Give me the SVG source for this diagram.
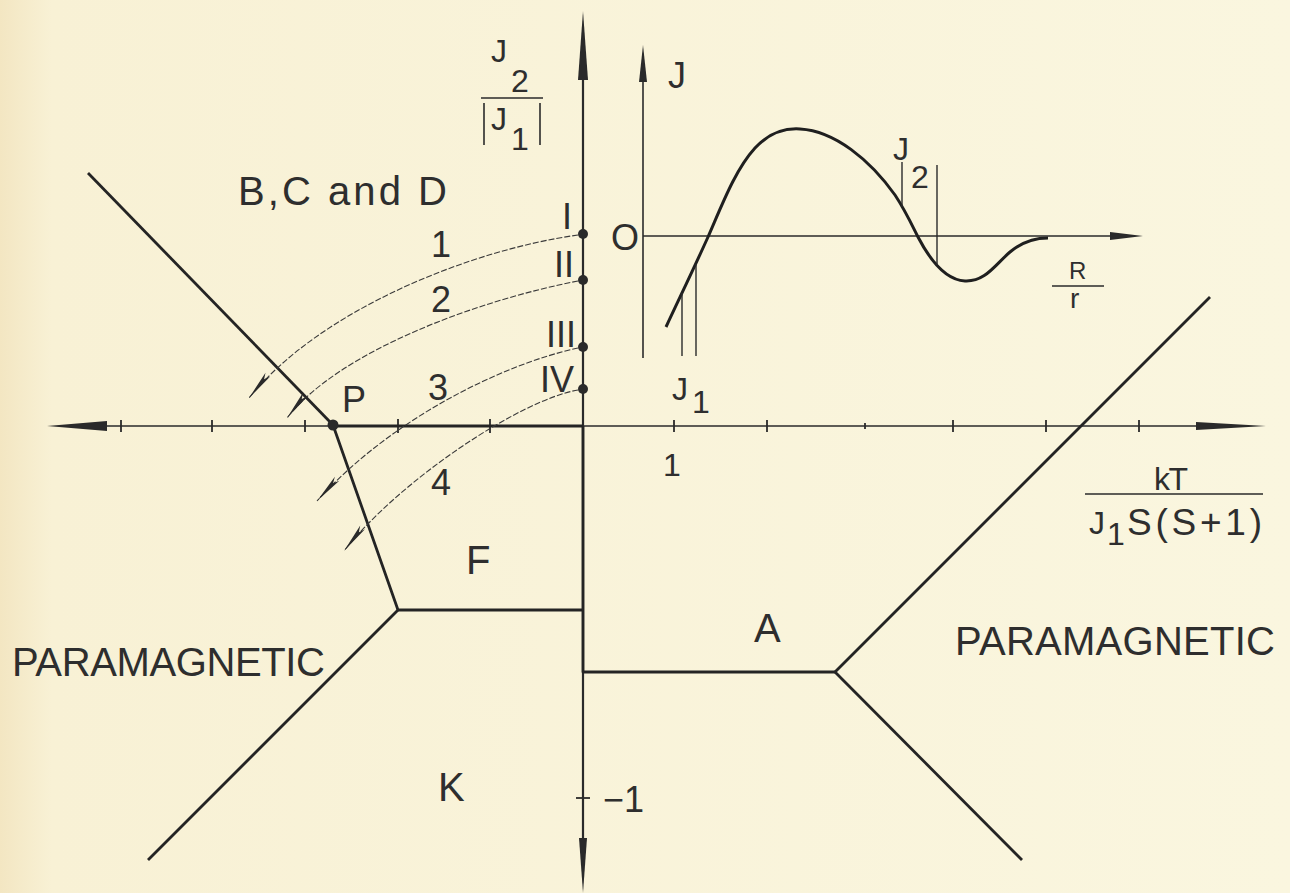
<svg xmlns="http://www.w3.org/2000/svg" width="1290" height="893" viewBox="0 0 1290 893">
<defs>
<linearGradient id="paper" x1="0" y1="0" x2="1" y2="0">
<stop offset="0" stop-color="#f3e6c2"/>
<stop offset="0.04" stop-color="#f8f1d5"/>
<stop offset="1" stop-color="#faf6df"/>
</linearGradient>
<marker id="dart" viewBox="-32 -5 34 10" refX="0" refY="0" markerWidth="34" markerHeight="10" markerUnits="userSpaceOnUse" orient="auto">
<path d="M-30,-3 L0,0 L-30,3 L-24,0 Z" fill="#2a2a2a"/>
</marker>
</defs>
<style>
.ax{stroke:#2a2a2a;stroke-width:1.6;fill:none}
.axt{stroke:#2a2a2a;stroke-width:2.2;fill:none}
.bd{stroke:#242424;stroke-width:2.8;fill:none;stroke-linejoin:round}
.tk{stroke:#2a2a2a;stroke-width:1.8}
.cv{stroke:#3a3a3a;stroke-width:1.1;fill:none;stroke-dasharray:6 2}
.ah{fill:#2a2a2a}
.dot{fill:#2a2a2a}
text{font-family:"Liberation Sans","DejaVu Sans",sans-serif;fill:#2e2e2e}
.lg{font-size:40px}
.md{font-size:36px}
.sm{font-size:32px}
</style>
<rect width="1290" height="893" fill="url(#paper)"/>

<g id="axes">
<line class="axt" x1="583" y1="70" x2="583" y2="845"/>
<polygon class="ah" points="583,11 578,80 588,80"/>
<polygon class="ah" points="583,893 579,838 587,838"/>
<line class="ax" x1="100" y1="426" x2="1200" y2="426"/>
<polygon class="ah" points="47,426 107,421 107,431"/>
<polygon class="ah" points="1266,426 1196,422 1196,430"/>
<g class="tk">
<line x1="121" y1="420" x2="121" y2="432"/>
<line x1="212" y1="420" x2="212" y2="432"/>
<line x1="305" y1="420" x2="305" y2="432"/>
<line x1="398" y1="419" x2="398" y2="433"/>
<line x1="490" y1="419" x2="490" y2="433"/>
<line x1="674" y1="420" x2="674" y2="432"/>
<line x1="767" y1="420" x2="767" y2="432"/>
<line x1="865" y1="423" x2="865" y2="429"/>
<line x1="953" y1="420" x2="953" y2="432"/>
<line x1="1046" y1="420" x2="1046" y2="432"/>
<line x1="1139" y1="420" x2="1139" y2="432"/>
<line x1="576" y1="798" x2="590" y2="798"/>
</g>
</g>

<g id="boundaries">
<line class="bd" x1="88" y1="173" x2="333" y2="425"/>
<polyline class="bd" points="333,426 583,426"/>
<polyline class="bd" points="333,425 398,610 583,610"/>
<line class="bd" x1="398" y1="610" x2="148" y2="860"/>
<polyline class="bd" points="583,426 583,672 835,672"/>
<line class="bd" x1="835" y1="672" x2="1210" y2="297"/>
<line class="bd" x1="835" y1="672" x2="1022" y2="860"/>
</g>

<g id="points">
<circle class="dot" cx="583" cy="234" r="5"/>
<circle class="dot" cx="583" cy="280" r="5"/>
<circle class="dot" cx="583" cy="347" r="5"/>
<circle class="dot" cx="583" cy="389" r="5"/>
<circle class="dot" cx="333" cy="425" r="5.5"/>
</g>

<g id="connectors">
<path class="cv" d="M578,235 C470,250 320,310 249,398" marker-end="url(#dart)"/>
<path class="cv" d="M578,281 C480,300 340,350 287,418" marker-end="url(#dart)"/>
<path class="cv" d="M578,348 C500,365 390,420 317,501" marker-end="url(#dart)"/>
<path class="cv" d="M578,390 C520,400 400,480 344,551" marker-end="url(#dart)"/>
</g>

<g id="inset">
<line class="ax" x1="643" y1="75" x2="643" y2="358"/>
<polygon class="ah" points="643,45 639,82 647,82"/>
<line class="ax" x1="643" y1="236" x2="1118" y2="236"/>
<polygon class="ah" points="1143,236 1110,232 1110,240"/>
<path d="M666,327 C680,297 694,268 708,237 C722,205 735,170 755,148 C770,132 785,128 800,129 C835,131 870,160 895,195 C905,210 912,225 918,237 C930,260 945,280 965,281 C985,282 995,265 1010,252 C1022,242 1035,238 1048,238" fill="none" stroke="#1f1f1f" stroke-width="3"/>
<g stroke="#2a2a2a" stroke-width="1.4">
<line x1="682" y1="293" x2="682" y2="356"/>
<line x1="696" y1="264" x2="696" y2="356"/>
<line x1="902" y1="162" x2="902" y2="207"/>
<line x1="937" y1="165" x2="937" y2="265"/>
<line x1="1052" y1="286" x2="1104" y2="286"/>
</g>
<text class="md" x="611" y="250">O</text>
<text class="md" x="668" y="88">J</text>
<text class="sm" x="893" y="160">J</text>
<text class="sm" x="911" y="188">2</text>
<text class="sm" x="672" y="400">J</text>
<text class="sm" x="692" y="413">1</text>
<text x="1069" y="279" font-size="24">R</text>
<text x="1070" y="308" font-size="28">r</text>
</g>

<g id="axis-labels">
<text class="sm" x="491" y="62">J</text>
<text class="sm" x="511" y="92">2</text>
<line x1="481" y1="98" x2="543" y2="98" stroke="#2a2a2a" stroke-width="1.6"/>
<line x1="484" y1="103" x2="484" y2="145" stroke="#2a2a2a" stroke-width="1.6"/>
<line x1="540" y1="103" x2="540" y2="145" stroke="#2a2a2a" stroke-width="1.6"/>
<text class="sm" x="491" y="130">J</text>
<text class="sm" x="511" y="150">1</text>
<text class="sm" x="1154" y="490" textLength="34">kT</text>
<line x1="1085" y1="494" x2="1263" y2="494" stroke="#2a2a2a" stroke-width="1.6"/>
<text class="sm" x="1089" y="534">J</text>
<text class="sm" x="1107" y="545">1</text>
<text x="1127" y="535" font-size="37" textLength="135">S(S+1)</text>
<text class="sm" x="663" y="476">1</text>
<text class="md" x="603" y="812">−1</text>
</g>

<g id="labels">
<text class="lg" x="238" y="205" textLength="209">B,C and D</text>
<text class="md" x="431" y="257">1</text>
<text class="md" x="431" y="312">2</text>
<text class="md" x="428" y="400">3</text>
<text class="md" x="431" y="495">4</text>
<text class="md" x="342" y="412">P</text>
<text class="md" x="567" y="229" text-anchor="middle">I</text>
<text class="md" x="564" y="277" text-anchor="middle">II</text>
<text class="md" x="561" y="347" text-anchor="middle">III</text>
<text class="md" x="557" y="392" text-anchor="middle">IV</text>
<text class="lg" x="466" y="574">F</text>
<text class="lg" x="754" y="642">A</text>
<text class="lg" x="438" y="801">K</text>
<text class="lg" x="12" y="676" textLength="313">PARAMAGNETIC</text>
<text class="lg" x="955" y="655" textLength="320">PARAMAGNETIC</text>
</g>
</svg>
